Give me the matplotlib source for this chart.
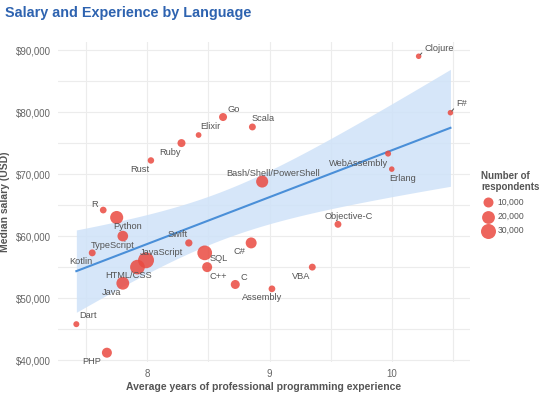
import numpy as np
import matplotlib
matplotlib.use("Agg")
import matplotlib.pyplot as plt
from matplotlib.ticker import FuncFormatter, MultipleLocator

# ---------------- data ----------------
languages = ["Go", "Elixir", "Scala", "Ruby", "Rust", "Bash/Shell/PowerShell",
             "Clojure", "F#", "WebAssembly", "Erlang", "R", "Python", "TypeScript",
             "Kotlin", "JavaScript", "HTML/CSS", "Java", "Swift", "SQL", "C++", "C",
             "C#", "Assembly", "Dart", "PHP", "Objective-C", "VBA"]
experience = [8.62, 8.42, 8.86, 8.28, 8.03, 8.94,
              10.22, 10.48, 9.97, 10.00, 7.64, 7.75, 7.80,
              7.55, 7.99, 7.92, 7.80, 8.34, 8.47, 8.49, 8.72,
              8.85, 9.02, 7.42, 7.67, 9.56, 9.35]
salary = [79200, 76300, 77600, 75000, 72200, 68800,
          89000, 79900, 73300, 70800, 64200, 63000, 60000,
          57300, 56100, 55000, 52400, 58900, 57300, 55000, 52200,
          58900, 51500, 45800, 41200, 61900, 55000]
respondents = [5000, 1400, 3000, 5000, 2300, 17000,
               1200, 1200, 1700, 1200, 2700, 21000, 12000,
               3000, 35000, 28500, 20000, 3600, 28500, 10000, 7300,
               13000, 2700, 1700, 10000, 3000, 3000]
legend_counts = [10000, 20000, 30000]
legend_labels = ["10,000", "20,000", "30,000"]
x_ticks = [8, 9, 10]
y_ticks = [40000, 50000, 60000, 70000, 80000, 90000]

# label offsets in pixels (dx, dy with y upward)
label_offsets = {
    "Go": (11, 8), "Elixir": (12, 9), "Scala": (11, 8), "Ruby": (-11, -9),
    "Rust": (-11, -9), "Bash/Shell/PowerShell": (11, 8), "Clojure": (6, 8),
    "F#": (6, 9), "WebAssembly": (-30, -10), "Erlang": (11, -9), "R": (-9, 6),
    "Python": (11, -9), "TypeScript": (-10, -9), "Kotlin": (-11, -9),
    "JavaScript": (15, 8), "HTML/CSS": (-9, -8), "Java": (-11, -9),
    "Swift": (-11, 8), "SQL": (14, -6), "C++": (11, -9), "C": (9, 7),
    "C#": (-12, -9), "Assembly": (-10, -9), "Dart": (12, 9), "PHP": (-15, -9),
    "Objective-C": (11, 8), "VBA": (-11, -9),
}
leader = {"Clojure", "F#"}

plt.rcParams["font.family"] = ["Liberation Sans", "DejaVu Sans"]

DPI = 100
fig = plt.figure(figsize=(5.42, 3.95), dpi=DPI)
ax = fig.add_axes([58 / 542, 1 - 362 / 395, (470 - 58) / 542, (362 - 42) / 395])

def diam_px(c):
    return 3.17 + 0.0683 * np.sqrt(np.asarray(c, dtype=float))

def area_pt(c):
    d_pt = diam_px(c) * 72 / DPI
    return d_pt ** 2

x = np.array(experience)
y = np.array(salary)

# regression with confidence band
n = len(x)
b1, b0 = np.polyfit(x, y, 1)
xs = np.linspace(x.min(), x.max(), 100)
ys = b0 + b1 * xs
resid = y - (b0 + b1 * x)
s = np.sqrt(np.sum(resid ** 2) / (n - 2))
se = s * np.sqrt(1 / n + (xs - x.mean()) ** 2 / np.sum((x - x.mean()) ** 2))
t = 2.06
ax.fill_between(xs, ys - t * se, ys + t * se, color="#cfe2f8", alpha=0.85, lw=0, zorder=1)
ax.plot(xs, ys, color="#4a8fd8", lw=1.5, zorder=2)

ax.scatter(x, y, s=area_pt(respondents), color="#ea4a40", alpha=0.85, lw=0, zorder=3)

for lang, xi, yi in zip(languages, experience, salary):
    dx, dy = label_offsets[lang]
    kw = {"ha": "center"}
    if lang in leader:
        kw["ha"] = "left"
        kw["arrowprops"] = dict(arrowstyle="-", color="#555555", lw=0.7, shrinkA=0,
                                shrinkB=1.5, relpos=(0, 0.3))
    ax.annotate(lang, (xi, yi), xytext=(dx, dy), textcoords="offset pixels",
                va="center", fontsize=6.7, color="#555555", zorder=4, **kw)

ax.set_xlim(7.27, 10.64)
ax.set_ylim(39700, 91300)
ax.set_xticks(x_ticks)
ax.set_yticks(y_ticks)
ax.xaxis.set_minor_locator(MultipleLocator(0.5))
ax.yaxis.set_minor_locator(MultipleLocator(5000))
ax.yaxis.set_major_formatter(FuncFormatter(lambda v, p: "${:,.0f}".format(v)))
ax.grid(which="both", color="#ececec", lw=0.8, zorder=0)
ax.set_axisbelow(True)
for sp in ax.spines.values():
    sp.set_visible(False)
ax.tick_params(which="both", length=0, labelsize=7, labelcolor="#666666", pad=5)

ax.set_xlabel("Average years of professional programming experience", fontsize=7.5,
              fontweight="bold", color="#555555", labelpad=2)
ax.set_ylabel("Median salary (USD)", fontsize=7.5, fontweight="bold", color="#555555", labelpad=4)

fig.text(5 / 542, 1 - 13 / 395, "Salary and Experience by Language", fontsize=10.4,
         fontweight="bold", color="#2e63b0", ha="left", va="center")

handles = [plt.scatter([], [], s=area_pt(c), color="#ea4a40", alpha=0.85, lw=0) for c in legend_counts]
leg = fig.legend(handles, legend_labels, loc="upper left", bbox_to_anchor=(474 / 542, 1 - 164 / 395),
                 frameon=False, fontsize=6.2, title="Number of\nrespondents",
                 title_fontproperties={"weight": "bold", "size": 7}, labelspacing=0.6,
                 handletextpad=0.3, borderpad=0.3, handlelength=1.6)
leg._legend_box.align = "left"
leg.get_title().set_color("#555555")
for t_ in leg.get_texts():
    t_.set_color("#555555")

fig.savefig("out.png", dpi=DPI)
